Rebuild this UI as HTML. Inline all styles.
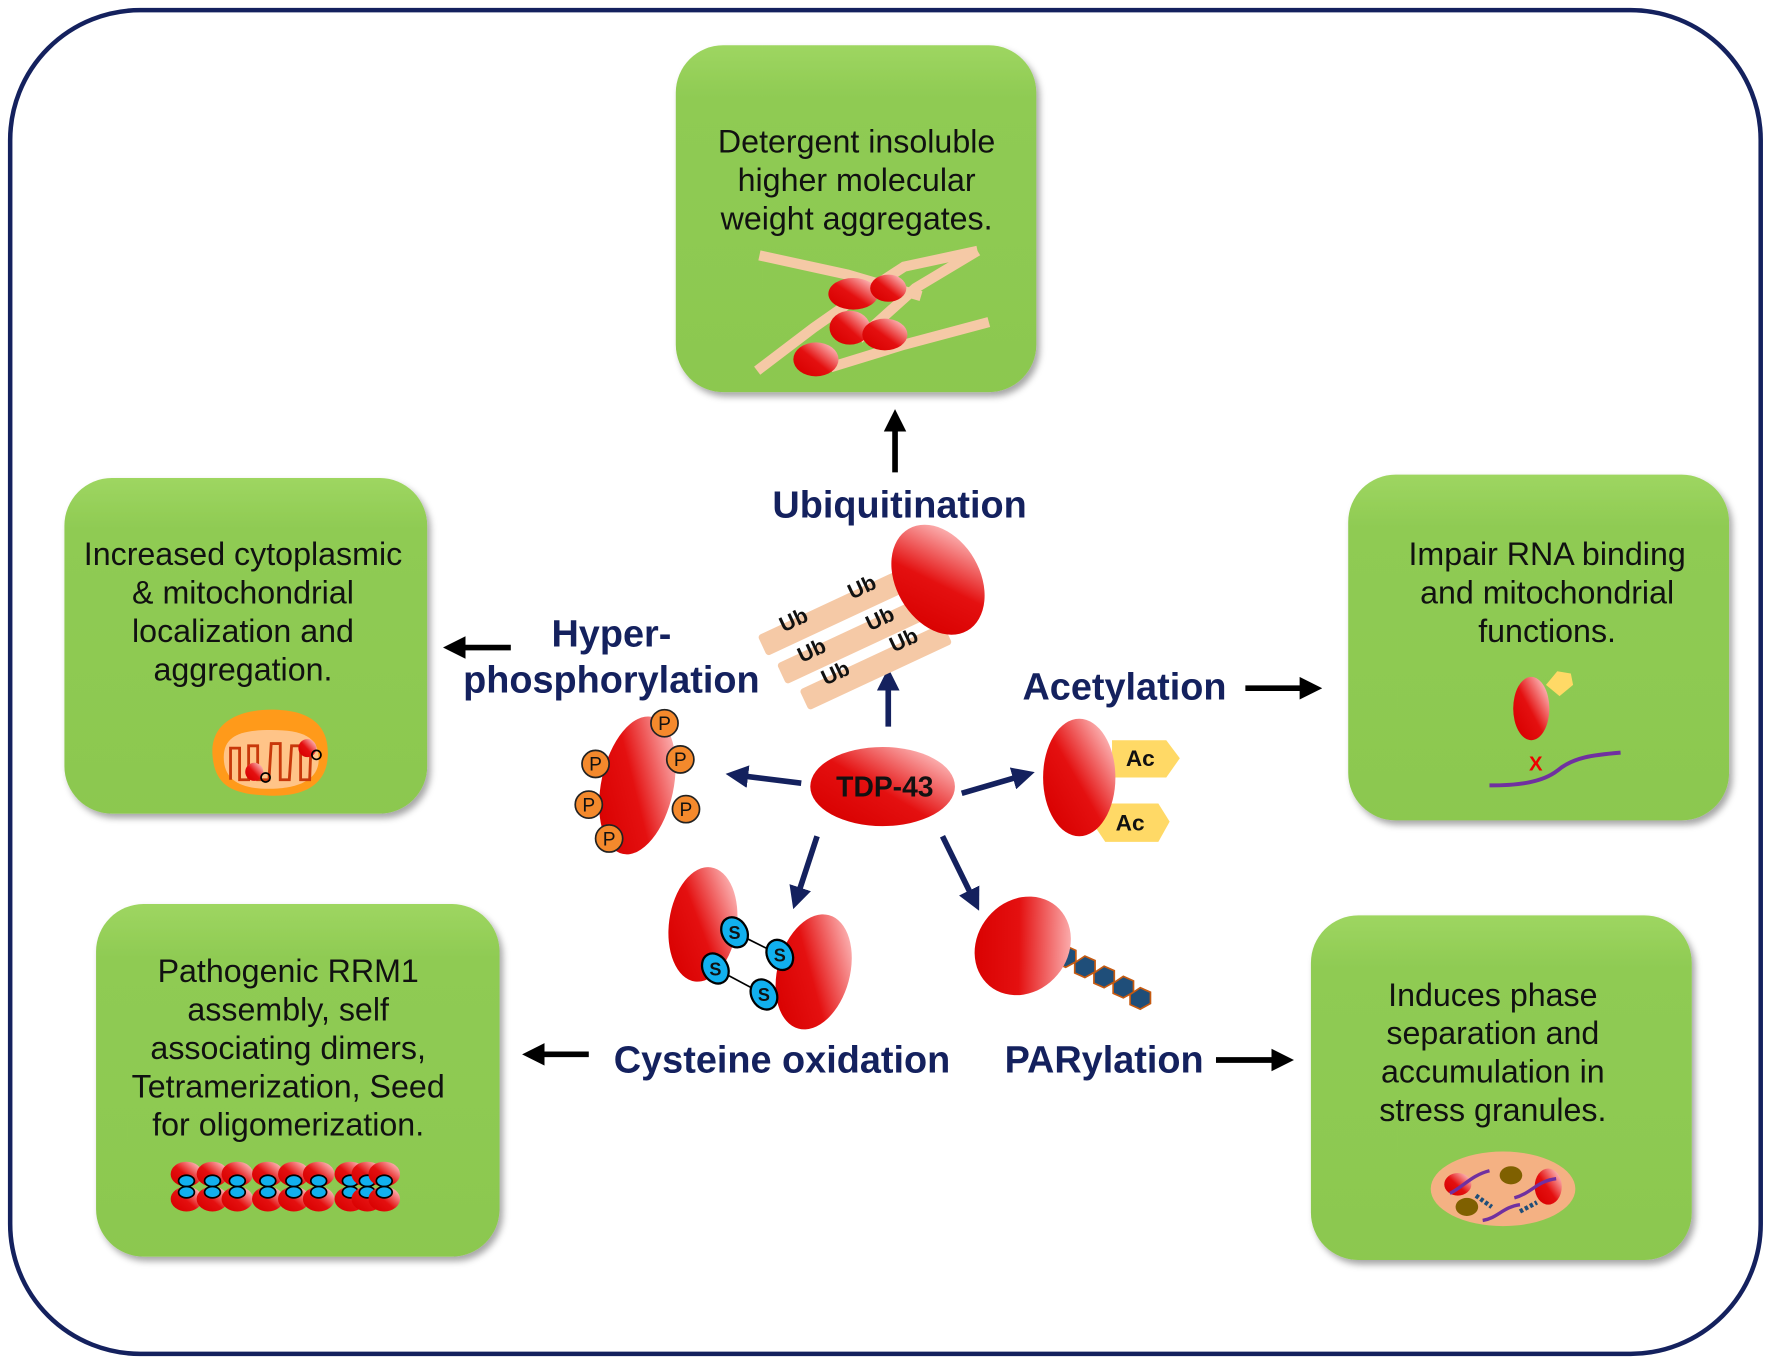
<!DOCTYPE html>
<html><head><meta charset="utf-8"><style>
html,body{margin:0;padding:0;background:#fff;}
svg{display:block;}
.bt{font-family:"Liberation Sans",Arial,sans-serif;font-size:28.5px;fill:#111;text-anchor:middle;}
.lb{font-family:"Liberation Sans",Arial,sans-serif;font-size:33.5px;font-weight:bold;fill:#14215e;text-anchor:middle;}
.ub{font-family:"Liberation Sans",Arial,sans-serif;font-size:19px;font-weight:bold;fill:#111;}
</style></head><body>
<svg width="1772" height="1364" viewBox="0 0 1568 1207" preserveAspectRatio="none" xmlns="http://www.w3.org/2000/svg">
<defs>
<linearGradient id="g" x1="0" y1="0" x2="0" y2="1"><stop offset="0" stop-color="#9ed661"/><stop offset="0.15" stop-color="#8fcb53"/><stop offset="1" stop-color="#8cc850"/></linearGradient>
<linearGradient id="r" x1="0.1" y1="0.9" x2="0.95" y2="0.1"><stop offset="0" stop-color="#d80000"/><stop offset="0.45" stop-color="#e41010"/><stop offset="1" stop-color="#ffc8c8"/></linearGradient>
<filter id="sh" x="-10%" y="-10%" width="130%" height="130%"><feDropShadow dx="3" dy="4" stdDeviation="3" flood-color="#000" flood-opacity="0.35"/></filter>
<marker id="an" markerWidth="4" markerHeight="4" refX="2" refY="2" orient="auto" markerUnits="strokeWidth"><path d="M0,0 L4,2 L0,4 z" fill="#14215e"/></marker>
<marker id="ab" markerWidth="4" markerHeight="4" refX="2" refY="2" orient="auto" markerUnits="strokeWidth"><path d="M0,0 L4,2 L0,4 z" fill="#000"/></marker>
<g id="u">
<ellipse cx="0" cy="-11" rx="14" ry="11" fill="url(#r)"/><ellipse cx="0" cy="11" rx="14" ry="11" fill="url(#r)"/>
<ellipse cx="0" cy="-5" rx="7" ry="5" fill="#11b0ee" stroke="#000" stroke-width="1.5"/><ellipse cx="0" cy="5" rx="7" ry="5" fill="#11b0ee" stroke="#000" stroke-width="1.5"/>
</g>
</defs>
<rect x="9" y="9" width="1549" height="1189" rx="115" fill="#fff" stroke="#14215e" stroke-width="4"/>

<!-- boxes -->
<rect x="598" y="40" width="319" height="307" rx="42" fill="url(#g)" filter="url(#sh)"/>
<rect x="57" y="423" width="321" height="297" rx="42" fill="url(#g)" filter="url(#sh)"/>
<rect x="1193" y="420" width="337" height="306" rx="42" fill="url(#g)" filter="url(#sh)"/>
<rect x="85" y="800" width="357" height="312" rx="42" fill="url(#g)" filter="url(#sh)"/>
<rect x="1160" y="810" width="337" height="305" rx="42" fill="url(#g)" filter="url(#sh)"/>

<!-- box texts -->
<text class="bt" x="758" y="135">Detergent insoluble</text>
<text class="bt" x="758" y="169">higher molecular</text>
<text class="bt" x="758" y="203">weight aggregates.</text>
<text class="bt" x="215" y="500">Increased cytoplasmic</text>
<text class="bt" x="215" y="534">&amp; mitochondrial</text>
<text class="bt" x="215" y="568">localization and</text>
<text class="bt" x="215" y="602">aggregation.</text>
<text class="bt" x="1369" y="500">Impair RNA binding</text>
<text class="bt" x="1369" y="534">and mitochondrial</text>
<text class="bt" x="1369" y="568">functions.</text>
<text class="bt" x="255" y="869">Pathogenic RRM1</text>
<text class="bt" x="255" y="903">assembly, self</text>
<text class="bt" x="255" y="937">associating dimers,</text>
<text class="bt" x="255" y="971">Tetramerization, Seed</text>
<text class="bt" x="255" y="1005">for oligomerization.</text>
<text class="bt" x="1321" y="890">Induces phase</text>
<text class="bt" x="1321" y="924">separation and</text>
<text class="bt" x="1321" y="958">accumulation in</text>
<text class="bt" x="1321" y="992">stress granules.</text>

<!-- aggregates in top box -->
<g stroke="#f5c9a6" stroke-width="9" fill="none">
<path d="M670,328 L720,290 L760,262 L800,236 L865,222"/>
<path d="M672,226 L750,243 L815,262"/>
<path d="M735,325 L800,305 L875,285"/>
<path d="M760,300 L810,255 L865,222"/>
</g>
<ellipse cx="755" cy="260" rx="22" ry="14" fill="url(#r)"/>
<ellipse cx="786" cy="255" rx="16" ry="12" fill="url(#r)"/>
<ellipse cx="752" cy="290" rx="18" ry="15" fill="url(#r)"/>
<ellipse cx="783" cy="296" rx="20" ry="14" fill="url(#r)"/>
<ellipse cx="722" cy="318" rx="20" ry="15" fill="url(#r)"/>

<!-- mitochondrion -->
<path d="M188,668 C186,640 210,628 240,628 C272,628 292,640 290,670 C288,700 260,705 238,704 C205,703 190,695 188,668 Z" fill="#ff9a1a"/>
<path d="M198,670 C198,650 215,646 240,646 C268,646 282,652 282,672 C282,692 260,698 238,698 C212,698 198,690 198,670 Z" fill="#ffc488"/>
<path d="M204,690 L204,662 L212,662 L212,690 L220,690 L220,660 L228,660 L228,690 L238,690 L240,658 L248,658 L248,690 L256,690 L258,660 L266,660 L266,690 L274,690 L275,665" stroke="#c8380a" stroke-width="2.5" fill="none"/>
<circle cx="225" cy="683" r="8" fill="url(#r)"/><circle cx="272" cy="662" r="8" fill="url(#r)"/>
<circle cx="235" cy="688" r="4" fill="none" stroke="#000" stroke-width="1.5"/>
<circle cx="280" cy="668" r="4" fill="none" stroke="#000" stroke-width="1.5"/>

<!-- RNA binding icon -->
<path d="M1318,695 C1345,695 1365,692 1378,682 C1392,670 1410,668 1434,666" stroke="#7030a0" stroke-width="3.5" fill="none"/>
<ellipse cx="1355" cy="627" rx="16" ry="28" fill="url(#r)"/>
<path d="M1368,606 L1378,594 L1390,596 L1392,606 L1380,616 Z" fill="#ffd966"/>
<text x="1353" y="682" font-family="Liberation Sans,Arial,sans-serif" font-size="18" font-weight="bold" fill="#e00">X</text>

<!-- bottom-left chain -->
<use href="#u" x="165" y="1050"/><use href="#u" x="188" y="1050"/><use href="#u" x="210" y="1050"/>
<use href="#u" x="237" y="1050"/><use href="#u" x="260" y="1050"/><use href="#u" x="282" y="1050"/>
<use href="#u" x="310" y="1050"/><use href="#u" x="325" y="1050"/><use href="#u" x="340" y="1050"/>

<!-- stress granule -->
<ellipse cx="1330" cy="1052" rx="64" ry="33" fill="#f4b183"/>
<ellipse cx="1298" cy="1068" rx="10" ry="8" fill="#7f6000"/><ellipse cx="1337" cy="1040" rx="10" ry="8" fill="#7f6000"/>
<ellipse cx="1370" cy="1050" rx="12" ry="16" fill="url(#r)"/><ellipse cx="1290" cy="1048" rx="12" ry="10" fill="url(#r)"/>
<path d="M1283,1056 C1295,1050 1302,1040 1318,1036" stroke="#7030a0" stroke-width="3" fill="none"/>
<path d="M1340,1060 C1355,1056 1360,1045 1377,1043" stroke="#7030a0" stroke-width="3" fill="none"/>
<path d="M1312,1080 C1325,1078 1330,1068 1345,1066" stroke="#7030a0" stroke-width="3" fill="none"/>
<path d="M1306,1058 L1320,1068" stroke="#1f4e79" stroke-width="4" stroke-dasharray="3,2"/>
<path d="M1345,1072 L1360,1064" stroke="#1f4e79" stroke-width="4" stroke-dasharray="3,2"/>

<!-- labels -->
<text class="lb" x="796" y="458">Ubiquitination</text>
<text class="lb" x="541" y="572">Hyper-</text>
<text class="lb" x="541" y="613">phosphorylation</text>
<text class="lb" x="995" y="619">Acetylation</text>
<text class="lb" x="692" y="949">Cysteine oxidation</text>
<text class="lb" x="977" y="949">PARylation</text>

<!-- black arrows -->
<g stroke="#000" stroke-width="5" fill="none">
<line x1="792" y1="418" x2="792" y2="372" marker-end="url(#ab)"/>
<line x1="452" y1="573" x2="402" y2="573" marker-end="url(#ab)"/>
<line x1="1102" y1="609" x2="1160" y2="609" marker-end="url(#ab)"/>
<line x1="521" y1="933" x2="472" y2="933" marker-end="url(#ab)"/>
<line x1="1076" y1="938" x2="1135" y2="938" marker-end="url(#ab)"/>
</g>

<!-- navy arrows from TDP-43 -->
<g stroke="#14215e" stroke-width="5" fill="none">
<line x1="786" y1="643" x2="786" y2="601" marker-end="url(#an)"/>
<line x1="709" y1="693" x2="652" y2="686" marker-end="url(#an)"/>
<line x1="851" y1="702" x2="906" y2="686" marker-end="url(#an)"/>
<line x1="723" y1="740" x2="705" y2="795" marker-end="url(#an)"/>
<line x1="834" y1="740" x2="862" y2="797" marker-end="url(#an)"/>
</g>

<!-- TDP-43 -->
<ellipse cx="781" cy="696" rx="64" ry="35" fill="url(#r)"/>
<text x="783" y="705" font-family="Liberation Sans,Arial,sans-serif" font-size="25" font-weight="bold" fill="#111" text-anchor="middle">TDP-43</text>

<!-- Ub complex -->
<g fill="#f5c9a6">
<rect x="668" y="532" width="140" height="20" rx="3" transform="rotate(-25 738 542)"/>
<rect x="685" y="557" width="140" height="20" rx="3" transform="rotate(-25 755 567)"/>
<rect x="705" y="580" width="140" height="20" rx="3" transform="rotate(-25 775 590)"/>
</g>
<g class="ub">
<text x="690" y="556" transform="rotate(-25 700 550)">Ub</text>
<text x="750" y="527" transform="rotate(-25 760 520)">Ub</text>
<text x="706" y="583" transform="rotate(-25 716 577)">Ub</text>
<text x="766" y="555" transform="rotate(-25 776 548)">Ub</text>
<text x="727" y="603" transform="rotate(-25 737 597)">Ub</text>
<text x="787" y="574" transform="rotate(-25 797 567)">Ub</text>
</g>
<ellipse cx="830" cy="513" rx="37" ry="52" transform="rotate(-30 830 513)" fill="url(#r)"/>

<!-- phosphorylated -->
<ellipse cx="564" cy="695" rx="32" ry="62" transform="rotate(12 564 695)" fill="url(#r)"/>
<g fill="#f4892c" stroke="#222" stroke-width="1.5">
<circle cx="588" cy="640" r="12"/><circle cx="602" cy="672" r="12"/><circle cx="527" cy="676" r="12"/>
<circle cx="521" cy="712" r="12"/><circle cx="607" cy="716" r="12"/><circle cx="539" cy="742" r="12"/>
</g>
<g font-family="Liberation Sans,Arial,sans-serif" font-size="17" fill="#111" text-anchor="middle">
<text x="588" y="646">P</text><text x="602" y="678">P</text><text x="527" y="682">P</text>
<text x="521" y="718">P</text><text x="607" y="722">P</text><text x="539" y="748">P</text>
</g>

<!-- acetylated -->
<path d="M984,655 L1032,655 L1044,671 L1032,688 L984,688 Z" fill="#ffd966"/>
<path d="M978,711 L1025,711 L1035,727 L1025,745 L978,745 L966,727 Z" fill="#ffd966"/>
<ellipse cx="955" cy="688" rx="32" ry="52" fill="url(#r)"/>
<text x="1009" y="678" font-family="Liberation Sans,Arial,sans-serif" font-size="20" font-weight="bold" fill="#111" text-anchor="middle">Ac</text>
<text x="1000" y="735" font-family="Liberation Sans,Arial,sans-serif" font-size="20" font-weight="bold" fill="#111" text-anchor="middle">Ac</text>

<!-- cysteine dimer -->
<ellipse cx="622" cy="818" rx="30" ry="51" transform="rotate(8 622 818)" fill="url(#r)"/>
<ellipse cx="720" cy="860" rx="32" ry="52" transform="rotate(15 720 860)" fill="url(#r)"/>
<g stroke="#000" stroke-width="1.5"><line x1="650" y1="825" x2="690" y2="845"/><line x1="633" y1="857" x2="676" y2="880"/></g>
<g fill="#11b0ee" stroke="#000" stroke-width="2">
<ellipse cx="650" cy="825" rx="11" ry="14" transform="rotate(-30 650 825)"/>
<ellipse cx="633" cy="857" rx="11" ry="14" transform="rotate(-30 633 857)"/>
<ellipse cx="690" cy="845" rx="11" ry="14" transform="rotate(-30 690 845)"/>
<ellipse cx="676" cy="880" rx="11" ry="14" transform="rotate(-30 676 880)"/>
</g>
<g font-family="Liberation Sans,Arial,sans-serif" font-size="16" font-weight="bold" fill="#111" text-anchor="middle">
<text x="650" y="831">S</text><text x="633" y="863">S</text><text x="690" y="851">S</text><text x="676" y="886">S</text>
</g>

<!-- PARylation -->
<g fill="#1f4e79" stroke="#c55a11" stroke-width="1.5">
<path d="M934,843 l9,-6 l9,4 l0,10 l-9,5 l-9,-4 z"/>
<path d="M951,852 l9,-6 l9,4 l0,10 l-9,5 l-9,-4 z"/>
<path d="M968,861 l9,-6 l9,4 l0,10 l-9,5 l-9,-4 z"/>
<path d="M985,870 l9,-6 l9,4 l0,10 l-9,5 l-9,-4 z"/>
<path d="M1000,880 l9,-6 l9,4 l0,10 l-9,5 l-9,-4 z"/>
</g>
<ellipse cx="905" cy="837" rx="40" ry="46" transform="rotate(40 905 837)" fill="url(#r)"/>
</svg>
</body></html>
